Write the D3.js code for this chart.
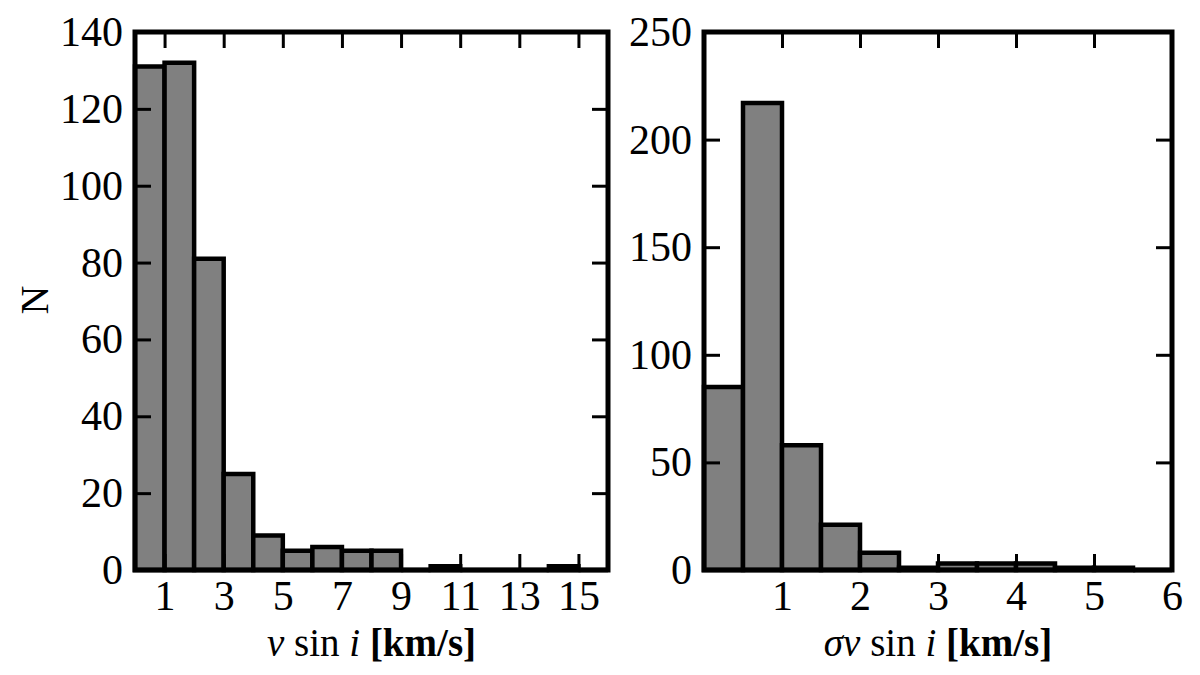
<!DOCTYPE html>
<html>
<head>
<meta charset="utf-8">
<script src="https://cdn.jsdelivr.net/npm/d3@7"></script>
<style>
  body { margin: 0; background: #fff; }
  svg text { font-family: "Liberation Serif", "DejaVu Serif", serif; fill: #000; }
</style>
</head>
<body>
<svg id="chart" width="1200" height="675"></svg>
<script>

// Left panel: v sin i histogram
const vsiniEdges = [0, 1, 2, 3, 4, 5, 6, 7, 8, 9, 10, 11, 12, 13, 14, 15, 16];
const vsiniCounts = [131, 132, 81, 25, 9, 5, 6, 5, 5, 0, 1, 0, 0, 0, 1, 0];
const vsiniXTicks = [1, 3, 5, 7, 9, 11, 13, 15];
const vsiniYTicks = [0, 20, 40, 60, 80, 100, 120, 140];

// Right panel: sigma v sin i histogram
const sigmaEdges = [0, 0.5, 1, 1.5, 2, 2.5, 3, 3.5, 4, 4.5, 5, 5.5, 6];
const sigmaCounts = [85, 217, 58, 21, 8, 1, 3, 3, 3, 1, 1, 0];
const sigmaXTicks = [1, 2, 3, 4, 5, 6];
const sigmaYTicks = [0, 50, 100, 150, 200, 250];

const svg = d3.select("#chart");

/** Draw one histogram panel inside the given box */
function drawPanel(cfg) {

    const x = d3.scaleLinear().domain(cfg.xDomain).range([cfg.left, cfg.right]),
          y = d3.scaleLinear().domain(cfg.yDomain).range([cfg.bottom, cfg.top]);

    const g = svg.append("g");

    // Bars
    const bins = cfg.counts.map((c, i) => ({x0: cfg.edges[i], x1: cfg.edges[i + 1], n: c}));
    g.append("g")
        .selectAll("path")
        .data(bins)
        .enter()
        .append("path")
        .attr("d", (d) => `M${x(d.x0)},${y(0)}V${y(d.n)}H${x(d.x1)}V${y(0)}Z`)
        .style("fill", "#808080")
        .style("stroke", "#000")
        .style("stroke-width", 4.5);

    // Inward ticks on all four sides, labels only bottom and left
    const tickLen = 16;
    const axes = [
        {axis: d3.axisBottom(x), vals: cfg.xTicks, at: `translate(0,${cfg.bottom})`, pad: 10, labels: true},
        {axis: d3.axisTop(x), vals: cfg.xTicks, at: `translate(0,${cfg.top})`, pad: 10, labels: false},
        {axis: d3.axisLeft(y), vals: cfg.yTicks, at: `translate(${cfg.left},0)`, pad: 12, labels: true},
        {axis: d3.axisRight(y), vals: cfg.yTicks, at: `translate(${cfg.right},0)`, pad: 12, labels: false}
    ];
    axes.forEach((a) => {
        const ag = g.append("g")
            .attr("transform", a.at)
            .call(a.axis
                .tickValues(a.vals)
                .tickFormat(d3.format("d"))
                .tickSize(-tickLen)
                .tickPadding(a.pad));
        ag.select(".domain").remove();
        ag.selectAll(".tick line").style("stroke", "#000").style("stroke-width", 3);
        ag.selectAll(".tick text").style("font-size", "42px");
        if (!a.labels) ag.selectAll(".tick text").remove();
    });

    // Frame
    g.append("rect")
        .attr("x", cfg.left)
        .attr("y", cfg.top)
        .attr("width", cfg.right - cfg.left)
        .attr("height", cfg.bottom - cfg.top)
        .style("fill", "none")
        .style("stroke", "#000")
        .style("stroke-width", 5);

    // X label
    const lab = g.append("text")
        .attr("x", (cfg.left + cfg.right) / 2)
        .attr("y", 656)
        .attr("text-anchor", "middle")
        .style("font-size", "39px");
    cfg.xLabel.forEach((p) => {
        lab.append("tspan")
            .style("font-style", p.italic ? "italic" : "normal")
            .style("font-weight", p.bold ? "bold" : "normal")
            .text(p.t);
    });
}

drawPanel({
    left: 135, right: 608, top: 32, bottom: 570,
    xDomain: [0, 16], yDomain: [0, 140],
    edges: vsiniEdges, counts: vsiniCounts,
    xTicks: vsiniXTicks, yTicks: vsiniYTicks,
    xLabel: [{t: "v", italic: true}, {t: " sin "}, {t: "i", italic: true}, {t: " [km/s]", bold: true}]
});

drawPanel({
    left: 704, right: 1172, top: 32, bottom: 570,
    xDomain: [0, 6], yDomain: [0, 250],
    edges: sigmaEdges, counts: sigmaCounts,
    xTicks: sigmaXTicks, yTicks: sigmaYTicks,
    xLabel: [{t: "σv", italic: true}, {t: " sin "}, {t: "i", italic: true}, {t: " [km/s]", bold: true}]
});

// Y label
svg.append("text")
    .attr("transform", "translate(48,300) rotate(-90)")
    .attr("text-anchor", "middle")
    .style("font-size", "40px")
    .text("N");

</script>
</body>
</html>
